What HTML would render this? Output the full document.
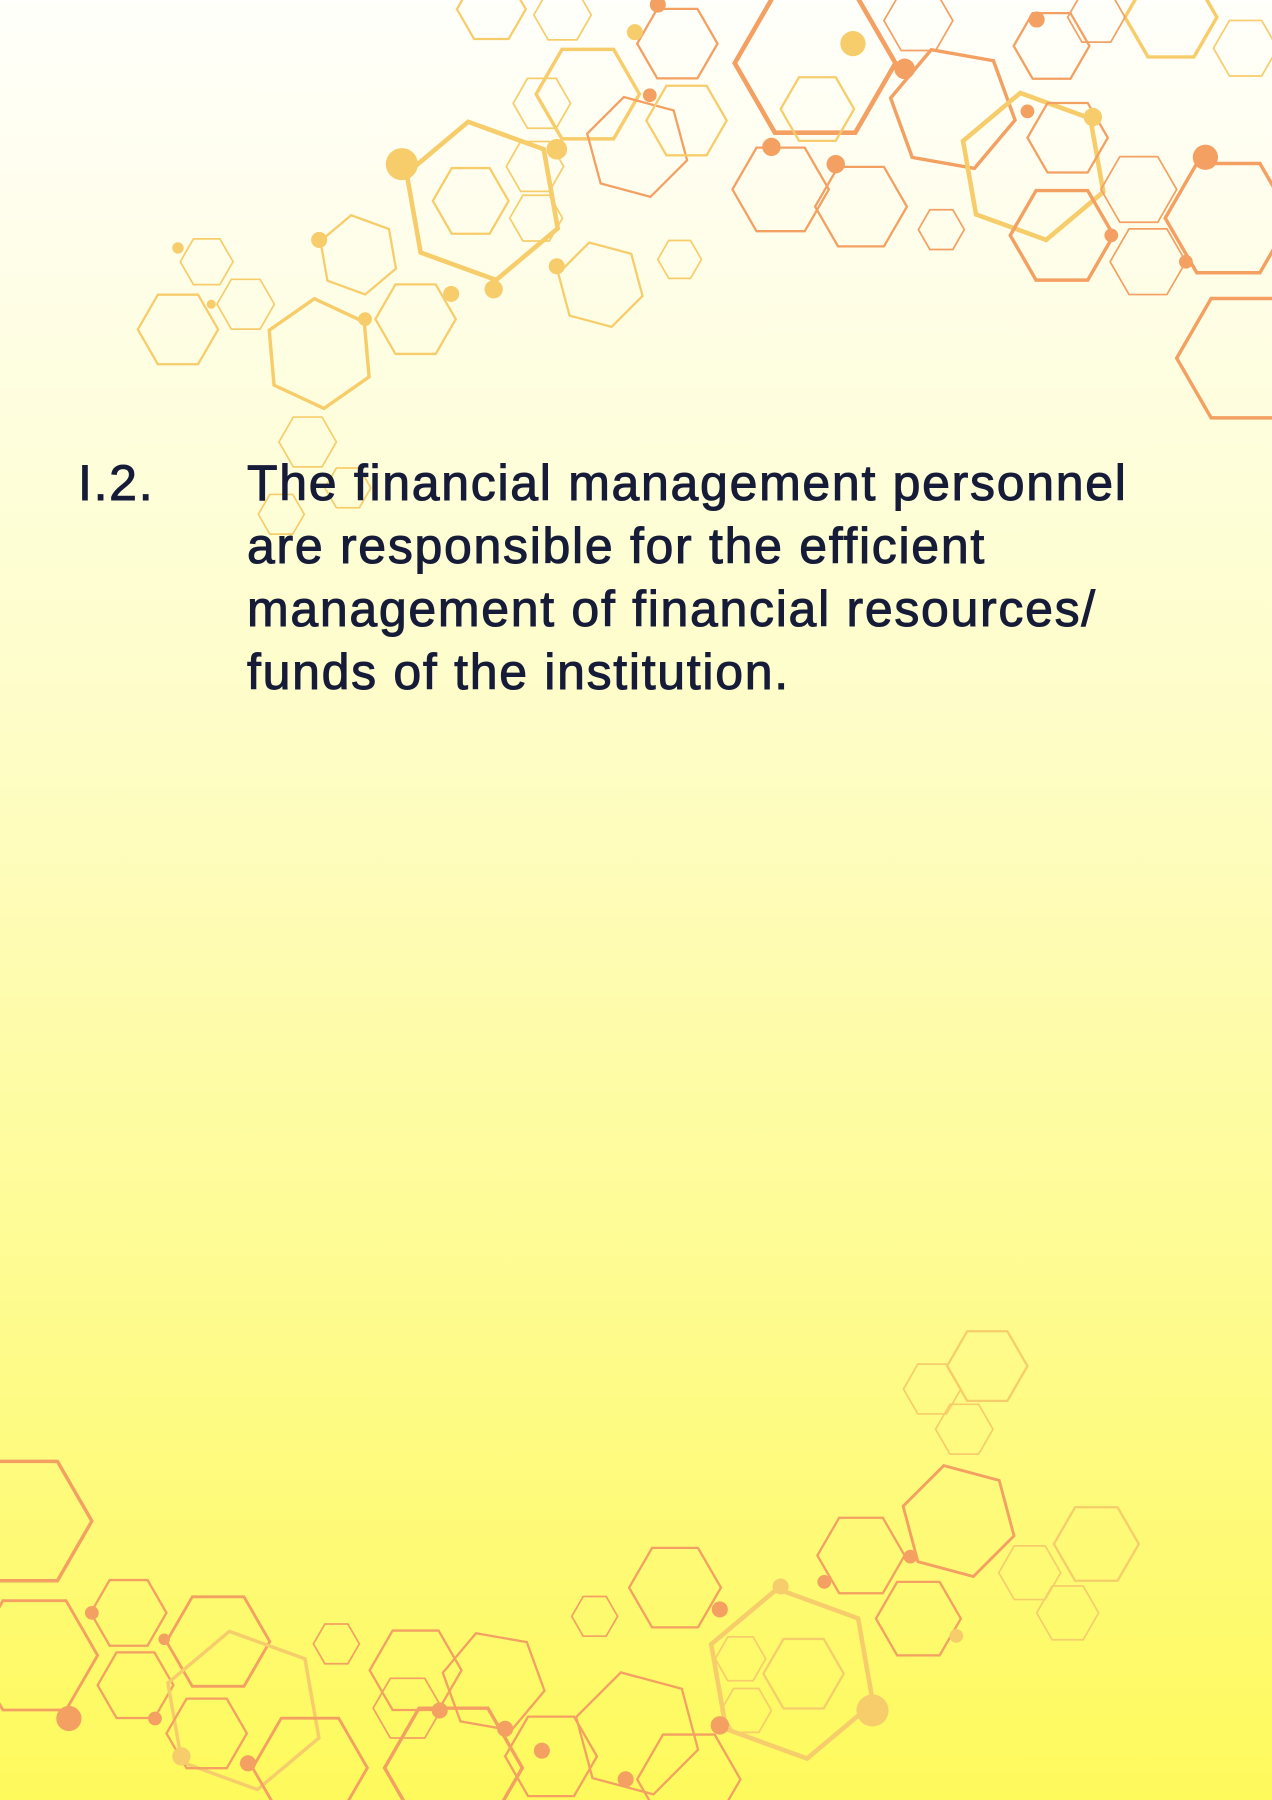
<!DOCTYPE html>
<html><head><meta charset="utf-8">
<style>
html,body{margin:0;padding:0;}
body{width:1272px;height:1800px;overflow:hidden;position:relative;background:linear-gradient(180deg,#fffffb 0%,#fefdc8 40%,#fefb8a 75%,#fefa5c 100%);}
svg{position:absolute;left:0;top:0;}
.txt{position:absolute;font-family:"Liberation Sans",sans-serif;font-size:50px;color:#161c38;-webkit-text-stroke:1px #161c38;letter-spacing:1.7px;line-height:63px;}
</style></head>
<body>
<svg id="deco" width="1272" height="1800" viewBox="0 0 1108 1568"></svg>
<div class="txt" style="left:78px;top:452px;">I.2.</div>
<div class="txt" style="left:247px;top:452px;width:1020px;">The financial management personnel<br>are responsible for the efficient<br>management of financial resources/<br>funds of the institution.</div>
<script>
const Y='#f7cd6c',O='#f3a062';
const hexes=[
[420,175,70,Y,4,20],[410,175,33,Y,2,0],[278,308,48,Y,3,25],[155,287,35,Y,2,0],[180,228,23,Y,1.5,0],[214,265,25,Y,1.5,0],
[312,222,35,Y,2,20],[362,278,35,Y,2,0],[523,248,38,Y,2,15],[466,145,25,Y,1.5,0],[467,190,23,Y,1.5,0],[592,226,19,Y,1.5,0],
[512,82,45,Y,3,0],[555,128,45,O,2,15],[590,38,35,O,2,0],[598,105,35,Y,2,0],[490,13,25,Y,1.5,0],[428,8,30,Y,2,0],[472,90,25,Y,1.5,0],
[710,55,70,O,4,0],[712,95,32,Y,2,0],[680,165,42,O,2,0],[750,180,40,O,2,0],[820,200,20,O,1.5,0],[800,18,30,O,1.5,0],
[830,95,55,O,3,10],[916,40,33,O,2,0],[900,145,65,Y,4,20],[930,120,35,O,2,0],[925,205,45,O,3,0],[992,165,33,O,1.5,0],
[1000,228,33,O,1.5,0],[1070,190,55,O,3,0],[1085,312,60,O,3,0],[1020,15,40,Y,3,0],[1085,42,28,Y,1.5,0],[955,15,25,O,1.5,0],
[268,385,25,Y,1.5,0],[245,448,20,Y,1.5,0],[303,425,20,Y,1.5,0],
[860,1190,35,Y,2,0],[812,1210,25,Y,1.5,0],[840,1245,25,Y,1.5,0],[835,1325,50,O,2.5,15],[750,1355,38,O,2,0],
[955,1345,37,Y,2,0],[897,1370,27,Y,1.5,0],[930,1405,27,Y,1.5,0],[800,1410,37,O,2,0],[588,1383,40,O,2,0],[518,1408,20,O,1.5,0],
[690,1458,75,Y,4,20],[700,1458,35,Y,2,0],[645,1445,22,Y,1.5,0],[650,1490,22,Y,1.5,0],
[20,1325,60,O,3,0],[30,1442,55,O,2.5,0],[112,1405,33,O,2,0],[118,1468,33,O,2,0],[190,1430,45,O,2.5,0],
[212,1490,70,Y,3,20],[180,1510,35,O,2,0],[293,1432,20,O,1.5,0],[362,1455,40,O,2,0],[430,1465,45,O,2,10],
[355,1488,30,O,1.5,0],[395,1540,60,O,3,0],[480,1530,40,O,2,0],[555,1510,55,O,2,15],[600,1550,45,O,2,0],[270,1540,50,O,2.5,0]
];
const dots=[[350,143,14,Y],[485,130,9,Y],[430,252,8,Y],[278,209,7,Y],[318,278,6,Y],[393,256,7,Y],[485,232,7,Y],[743,38,11,Y],
[788,60,9,O],[672,128,8,O],[728,143,8,O],[895,97,6,O],[903,17,7,O],[952,102,8,Y],[1050,137,11,O],[968,205,6,O],[1033,228,6,O],
[566,83,6,O],[553,28,7,Y],[573,4,7,O],[155,216,5,Y],[184,265,4,Y],
[760,1490,14,Y],[680,1382,7,Y],[627,1402,7,O],[718,1378,6,O],[793,1356,6,O],[833,1425,6,Y],[60,1497,11,O],[80,1405,6,O],
[143,1428,5,O],[135,1497,6,O],[216,1536,7,O],[383,1490,7,O],[440,1506,7,O],[472,1525,7,O],[627,1503,8,O],[545,1550,7,O],[158,1530,8,Y]];
const svg=document.getElementById('deco');
const NS='http://www.w3.org/2000/svg';
for(const h of hexes){
  const [cx,cy,r,c,w,rot]=h;let pts=[];
  for(let i=0;i<6;i++){const a=(i*60+rot)*Math.PI/180;pts.push((cx+r*Math.cos(a)).toFixed(1)+','+(cy+r*Math.sin(a)).toFixed(1));}
  const p=document.createElementNS(NS,'polygon');
  p.setAttribute('points',pts.join(' '));p.setAttribute('fill','none');p.setAttribute('stroke',c);p.setAttribute('stroke-width',w);
  
  
  svg.appendChild(p);
}
for(const d of dots){
  const e=document.createElementNS(NS,'circle');
  e.setAttribute('cx',d[0]);e.setAttribute('cy',d[1]);e.setAttribute('r',d[2]);e.setAttribute('fill',d[3]);
  
  
  svg.appendChild(e);
}
</script>
</body></html>
